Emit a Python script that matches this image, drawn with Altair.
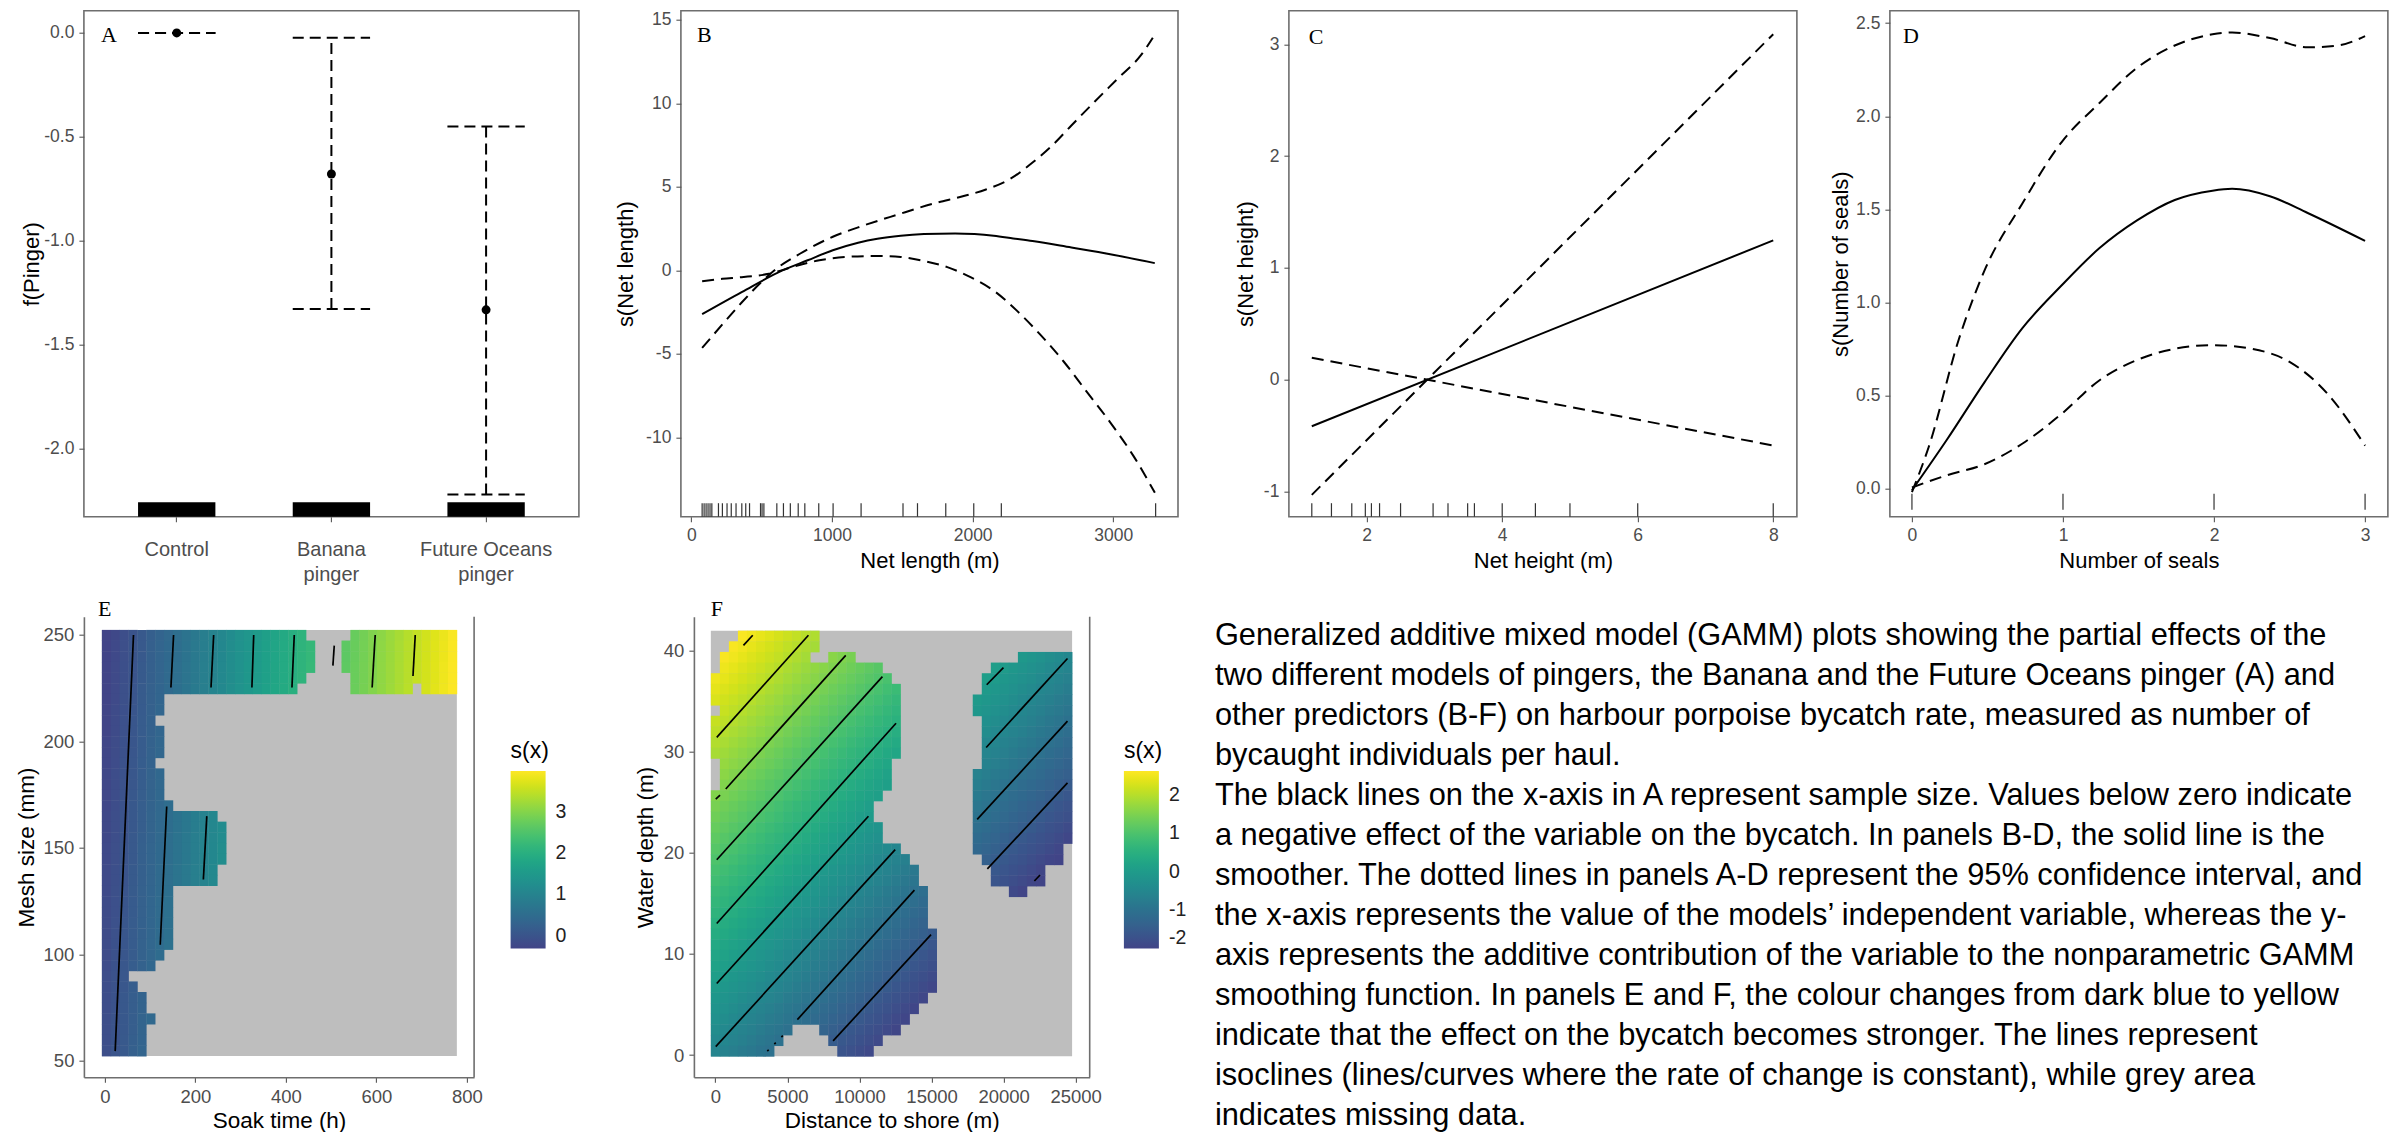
import altair as alt
import pandas as pd

FONT = "Liberation Sans"
SERIF = "Liberation Serif"
FRAME = "#6e6e6e"
LBL = "#4d4d4d"
MINUS = "replace(datum.label, '\u2212', '-')"

# ---------------- Panel A : pinger effect ----------------
pinger_cats = ["Control", "Banana pinger", "Future Oceans pinger"]
pinger_fit = [0.0, -0.679, -1.333]
pinger_upper = [0.0, -0.023, -0.450]
pinger_lower = [0.0, -1.329, -2.222]
sample_bar_top = -2.26
A_ydomain = [-2.329, 0.107]

# ---------------- Panel B : net length ----------------
netlen_x = [77, 358, 648, 827, 1006, 1186, 1323, 1489, 1654, 1875, 2013, 2150, 2288, 2426, 2702, 2978, 3295]
netlen_fit = [-2.62, -1.30, 0.00, 0.61, 1.21, 1.66, 1.90, 2.08, 2.18, 2.22, 2.18, 2.08, 1.92, 1.76, 1.37, 0.97, 0.44]
netlen_up_x = [77, 221, 358, 496, 620, 772, 1006, 1186, 1461, 1737, 1930, 2095, 2261, 2426, 2564, 2702, 2867, 3033, 3198, 3281]
netlen_up = [-4.64, -3.23, -1.92, -0.71, 0.20, 1.00, 2.02, 2.58, 3.33, 4.04, 4.44, 4.85, 5.45, 6.46, 7.47, 8.68, 10.1, 11.5, 12.9, 13.93]
netlen_lo_x = [77, 221, 358, 551, 717, 910, 1103, 1323, 1489, 1654, 1820, 1985, 2150, 2316, 2481, 2647, 2812, 2978, 3143, 3295]
netlen_lo = [-0.65, -0.50, -0.40, -0.20, 0.20, 0.61, 0.81, 0.87, 0.81, 0.57, 0.20, -0.40, -1.21, -2.42, -3.84, -5.45, -7.27, -9.09, -11.1, -13.3]
netlen_rug = [77, 91, 105, 119, 133, 146, 193, 221, 254, 284, 318, 359, 387, 414, 492, 503, 516, 608, 655,
              704, 760, 807, 906, 1008, 1207, 1505, 1608, 1809, 2008, 2204, 3301]

# ---------------- Panel C : net height ----------------
netht_x = [1.19, 8.0]
netht_fit = [-0.416, 1.246]
netht_up = [-1.03, 3.09]
netht_lo = [0.196, -0.588]
netht_rug = [1.19, 1.48, 1.78, 1.98, 2.07, 2.19, 2.50, 2.98, 3.20, 3.49, 3.59, 4.0, 4.49, 5.0, 6.0, 8.0]

# ---------------- Panel D : number of seals ----------------
seals_x = [0, 0.23, 0.48, 0.73, 0.99, 1.24, 1.49, 1.74, 1.99, 2.12, 2.37, 2.62, 3.0]
seals_fit = [-0.01, 0.26, 0.57, 0.86, 1.09, 1.29, 1.44, 1.55, 1.60, 1.61, 1.57, 1.48, 1.33]
seals_up_x = [0, 0.11, 0.31, 0.48, 0.73, 0.99, 1.24, 1.49, 1.74, 1.99, 2.12, 2.37, 2.62, 2.82, 3.0]
seals_up = [-0.02, 0.22, 0.80, 1.17, 1.53, 1.86, 2.07, 2.26, 2.38, 2.44, 2.45, 2.42, 2.37, 2.38, 2.43]
seals_lo_x = [0, 0.23, 0.48, 0.73, 0.99, 1.24, 1.49, 1.74, 1.99, 2.25, 2.5, 2.75, 3.0]
seals_lo = [0.005, 0.07, 0.13, 0.24, 0.40, 0.58, 0.69, 0.75, 0.77, 0.75, 0.68, 0.51, 0.23]
seals_rug = [0, 1, 2, 3]

# ---------------- Panel E : soak time x mesh size surface ----------------
soak_extent = [-6.6, 778.0]
mesh_extent = [52.2, 252.4]
soak_col_vals = [-0.34, -0.23, -0.12, -0.01, 0.10, 0.21, 0.32, 0.43, 0.54, 0.65, 0.77, 0.88, 0.99, 1.10,
                 1.21, 1.32, 1.43, 1.54, 1.65, 1.76, 1.87, 1.98, 2.09, 2.20, 2.31, 2.42, 2.53, 2.64, 2.75,
                 2.86, 2.97, 3.08, 3.19, 3.30, 3.41, 3.52, 3.63, 3.74, 3.85, 3.96]
mesh_row_shift = [0.00, 0.01, 0.01, 0.02, 0.02, 0.03, 0.03, 0.04, 0.05, 0.05, 0.06, 0.06, 0.07, 0.08,
                  0.08, 0.09, 0.09, 0.10, 0.10, 0.11, 0.12, 0.12, 0.13, 0.13, 0.14, 0.15, 0.15, 0.16,
                  0.16, 0.17, 0.17, 0.18, 0.19, 0.19, 0.20, 0.20, 0.21, 0.21, 0.22, 0.23]
E_runs = [
    [(0, 22), (28, 39)], [(0, 23), (27, 39)], [(0, 23), (27, 39)], [(0, 23), (27, 39)],
    [(0, 22), (28, 39)], [(0, 21), (28, 34), (36, 39)],
    [(0, 6)], [(0, 6)], [(0, 5)], [(0, 6)], [(0, 6)], [(0, 6)], [(0, 5)], [(0, 6)], [(0, 6)], [(0, 6)],
    [(0, 7)], [(0, 12)], [(0, 13)], [(0, 13)], [(0, 13)], [(0, 13)], [(0, 12)], [(0, 12)],
    [(0, 7)], [(0, 7)], [(0, 7)], [(0, 7)], [(0, 7)], [(0, 7)],
    [(0, 6)], [(0, 5)], [(0, 2)], [(0, 3)], [(0, 4)], [(0, 4)], [(0, 5)], [(0, 4)], [(0, 4)], [(0, 4)],
]
E_iso_x1 = [63.3, 151.9, 240.5, 329.0, 418.6, 507.0, 597.5, 686.0, 136.7, 225.3]
E_iso_y1 = [250.0, 250.0, 250.0, 250.0, 250.0, 245.0, 250.0, 250.0, 169.4, 164.9]
E_iso_x2 = [22.8, 146.0, 234.6, 325.0, 413.5, 504.0, 590.7, 681.0, 122.4, 217.7]
E_iso_y2 = [54.5, 225.3, 225.3, 225.3, 225.3, 235.6, 225.3, 230.7, 104.5, 135.1]

# ---------------- Panel F : distance to shore x water depth surface ----------------
dist_extent = [-313.0, 24750.0]
depth_extent = [-0.12, 41.95]
dist_col_vals = [0.00, -0.08, -0.16, -0.24, -0.32, -0.40, -0.48, -0.56, -0.65, -0.73, -0.81, -0.89, -0.97,
                 -1.05, -1.13, -1.21, -1.29, -1.37, -1.45, -1.53, -1.61, -1.69, -1.77, -1.85, -1.94, -2.02,
                 -2.10, -2.18, -2.26, -2.34, -2.42, -2.50, -2.58, -2.66, -2.74, -2.82, -2.90, -2.98, -3.06, -3.14]
depth_row_vals = [2.83, 2.74, 2.66, 2.57, 2.49, 2.40, 2.31, 2.23, 2.14, 2.06, 1.97, 1.88, 1.80, 1.71, 1.62,
                  1.54, 1.45, 1.37, 1.28, 1.19, 1.11, 1.02, 0.93, 0.85, 0.76, 0.68, 0.59, 0.50, 0.42, 0.33,
                  0.24, 0.16, 0.07, -0.01, -0.10, -0.19, -0.27, -0.36, -0.44, -0.53]
F_runs = [
    [(3, 11)], [(2, 11)], [(1, 10), (13, 15), (34, 39)], [(1, 18), (31, 39)], [(0, 19), (30, 39)],
    [(0, 20), (30, 39)], [(0, 20), (29, 39)], [(1, 20), (29, 39)], [(0, 20), (30, 39)], [(0, 20), (30, 39)],
    [(0, 20), (30, 39)], [(0, 20), (30, 39)], [(1, 19), (30, 39)], [(1, 19), (29, 39)], [(1, 19), (29, 39)],
    [(0, 18), (29, 39)], [(0, 17), (29, 39)], [(0, 17), (29, 39)], [(0, 18), (29, 39)], [(0, 18), (29, 39)],
    [(0, 20), (29, 38)], [(0, 21), (30, 38)], [(0, 22), (31, 36)], [(0, 22), (31, 36)], [(0, 23), (33, 34)],
    [(0, 23)], [(0, 23)], [(0, 23)], [(0, 24)], [(0, 24)], [(0, 24)], [(0, 24)], [(0, 24)], [(0, 24)],
    [(0, 23)], [(0, 22)], [(0, 21)], [(0, 8), (12, 20)], [(0, 7), (13, 18)], [(0, 6), (14, 17)],
]
F_iso_x1 = [1949, 97, 28, 721, 97, 97, 97, 26, 5690, 8169, 18827, 18792, 18166, 18870, 22133]
F_iso_y1 = [40.5, 31.4, 25.3, 26.3, 19.3, 13.0, 7.07, 0.83, 3.5, 1.4, 36.6, 30.4, 23.3, 18.4, 17.2]
F_iso_x2 = [2594, 6458, 326, 9046, 11591, 12535, 10620, 12476, 13811, 14963, 19986, 24430, 24430, 24430, 22524]
F_iso_y2 = [41.5, 41.5, 25.7, 39.5, 37.4, 32.8, 23.6, 20.3, 16.3, 11.9, 38.3, 39.2, 33.0, 26.9, 17.8]
F_dot_x = [3602, 5037]
F_dot_y = [0.38, 2.43]

caption_lines = [
    "Generalized additive mixed model (GAMM) plots showing the partial effects of the",
    "two different models of pingers, the Banana and the Future Oceans pinger (A) and",
    "other predictors (B-F) on harbour porpoise bycatch rate, measured as number of",
    "bycaught individuals per haul.",
    "The black lines on the x-axis in A represent sample size. Values below zero indicate",
    "a negative effect of the variable on the bycatch. In panels B-D, the solid line is the",
    "smoother. The dotted lines in panels A-D represent the 95% confidence interval, and",
    "the x-axis represents the value of the models\u2019 independent variable, whereas the y-",
    "axis represents the additive contribution of the variable to the nonparametric GAMM",
    "smoothing function. In panels E and F, the colour changes from dark blue to yellow",
    "indicate that the effect on the bycatch becomes stronger. The lines represent",
    "isoclines (lines/curves where the rate of change is constant), while grey area",
    "indicates missing data.",
]

# ---------------- layout (styles) ----------------
TOP_H = 506
BOT_H = 460.6
W_A, W_B, W_C, W_D = 495, 497.1, 508, 498
W_E, W_F = 390.2, 395.8
GAP_AB, GAP_BC, GAP_CD = 101.2, 109.7, 92.4
GAP_EF, GAP_FT = 218.4, 125
TOP_BOUND = TOP_H + 75    # invisible anchors that fix the vertical layout bounds
BOT_BOUND = -23
ROW_GAP = 604 - TOP_BOUND + BOT_BOUND
FRAME_VIEW = alt.ViewBackground(stroke=FRAME, strokeWidth=1.6)
one = pd.DataFrame({"t": [0]})

TOP_TICK, TOP_TITLE = 17.5, 22
BOT_TICK, BOT_TITLE = 18.5, 22.5


def yax(title, values, title_x, H, size=TOP_TICK, tsize=TOP_TITLE, fmt=None, domain=False):
    kw = dict(title=title, values=values, titleX=title_x, titleY=H / 2, titleAngle=270,
              titleAlign="center", titleBaseline="middle", labelFontSize=size, titleFontSize=tsize,
              labelPadding=5, tickSize=5, labelExpr=MINUS, domain=domain, labelOverlap=False,
              labelFlush=False, grid=False)
    if domain:
        kw.update(domainColor=FRAME, domainWidth=1.6)
    if fmt:
        kw["format"] = fmt
    return alt.Axis(**kw)


def xax(title, values, W, size=TOP_TICK, tsize=TOP_TITLE, lpad=14.3, ty=44, fmt="d", domain=False):
    kw = dict(title=title, values=values, titleX=W / 2, titleY=ty, titleAlign="center",
              titleBaseline="middle", labelFontSize=size, titleFontSize=tsize, labelPadding=lpad,
              labelBaseline="middle", tickSize=5, labelExpr=MINUS, domain=domain, labelOverlap=False,
              labelFlush=False, labelAngle=0, format=fmt, grid=False)
    if domain:
        kw.update(domainColor=FRAME, domainWidth=1.6)
    return alt.Axis(**kw)


def panel_label(t, x, y, size=22):
    return alt.Chart(pd.DataFrame({"t": [t]})).mark_text(
        font=SERIF, fontSize=size, align="left", baseline="middle", color="black"
    ).encode(x=alt.value(x), y=alt.value(y), text="t:N")


def spacer(w, h, anchor=None):
    base = alt.Chart(one).mark_point(opacity=0, size=1).encode(x=alt.value(0), y=alt.value(0))
    if anchor is None:
        return base.properties(width=w, height=h)
    extra = alt.Chart(one).mark_point(opacity=0, size=1).encode(x=alt.value(0), y=alt.value(anchor))
    return alt.layer(base, extra).properties(width=w, height=h)


def lscale(dom):
    return alt.Scale(domain=dom, nice=False, zero=False)


# ---------------- Panel A ----------------
dfA = pd.DataFrame({"cat": pinger_cats, "fit": pinger_fit, "hi": pinger_upper,
                    "lo": pinger_lower, "bt": [sample_bar_top] * 3, "bb": [A_ydomain[0]] * 3})
band = alt.Scale(paddingInner=0.5, paddingOuter=0.35)
xA_axis = alt.Axis(title=None, labelFontSize=20, labelLineHeight=25, labelBaseline="middle",
                   labelPadding=27.5, tickSize=5, domain=False, labelAngle=0, labelOverlap=False,
                   labelColor=LBL, grid=False,
                   labelExpr="datum.value == 'Banana pinger' ? ['Banana', 'pinger'] : "
                             "datum.value == 'Future Oceans pinger' ? ['Future Oceans', 'pinger'] : datum.label")
ysA = lscale(A_ydomain)
yA_axis = yax("f(Pinger)", [0, -0.5, -1, -1.5, -2], -52.1, TOP_H, fmt=".1f")
baseA = alt.Chart(dfA)
barsA = baseA.mark_bar(color="black").encode(
    x=alt.X("cat:N", sort=pinger_cats, scale=band, axis=xA_axis),
    y=alt.Y("bt:Q", scale=ysA, axis=yA_axis), y2="bb")
dash_A = dict(color="black", strokeWidth=2, strokeDash=[11, 6])
capHi = baseA.mark_rule(**dash_A).encode(
    x=alt.X("cat:N", sort=pinger_cats, bandPosition=0), x2=alt.X2("cat", bandPosition=1), y="hi:Q")
capLo = baseA.mark_rule(**dash_A).encode(
    x=alt.X("cat:N", sort=pinger_cats, bandPosition=0), x2=alt.X2("cat", bandPosition=1), y="lo:Q")
vertA = baseA.mark_rule(**dash_A).encode(x=alt.X("cat:N", sort=pinger_cats), y="lo:Q", y2="hi")
ptsA = baseA.mark_circle(size=80, color="black", opacity=1).encode(
    x=alt.X("cat:N", sort=pinger_cats), y="fit:Q")
chartA = alt.layer(barsA, capHi, capLo, vertA, ptsA, panel_label("A", 17, 24.5)).properties(
    width=W_A, height=TOP_H, view=FRAME_VIEW)


# ---------------- smooth panels B, C, D ----------------
def smooth_panel(fx, fy, ux, uy, lx, ly, rug, xdom, ydom, xvals, yvals, xtitle, ytitle,
                 title_x, W, letter, lx_pos, ly_pos, yfmt="d", rug_top=13.5, rug_bot=0):
    dfit = pd.DataFrame({"x": fx, "y": fy})
    dci = pd.concat([pd.DataFrame({"x": ux, "y": uy, "b": "upper"}),
                     pd.DataFrame({"x": lx, "y": ly, "b": "lower"})])
    drug = pd.DataFrame({"x": rug})
    xs, ys = lscale(xdom), lscale(ydom)
    fit = alt.Chart(dfit).mark_line(color="black", strokeWidth=2, interpolate="monotone").encode(
        x=alt.X("x:Q", scale=xs, axis=xax(xtitle, xvals, W)),
        y=alt.Y("y:Q", scale=ys, axis=yax(ytitle, yvals, title_x, TOP_H, fmt=yfmt)))
    ci = alt.Chart(dci).mark_line(color="black", strokeWidth=2, strokeDash=[12, 7],
                                  interpolate="monotone").encode(x="x:Q", y="y:Q", detail="b:N")
    rg = alt.Chart(drug).mark_rule(color="#333333", strokeWidth=1.2).encode(
        x="x:Q", y=alt.value(TOP_H - rug_top), y2=alt.value(TOP_H - rug_bot))
    return alt.layer(fit, ci, rg, panel_label(letter, lx_pos, ly_pos)).properties(
        width=W, height=TOP_H, view=FRAME_VIEW)


chartB = smooth_panel(netlen_x, netlen_fit, netlen_up_x, netlen_up, netlen_lo_x, netlen_lo, netlen_rug,
                      [-74, 3460], [-14.74, 15.55], [0, 1000, 2000, 3000], [-10, -5, 0, 5, 10, 15],
                      "Net length (m)", "s(Net length)", -55.4, W_B, "B", 16.2, 24.4)
chartC = smooth_panel(netht_x, netht_fit, netht_x, netht_up, netht_x, netht_lo, netht_rug,
                      [0.852, 8.349], [-1.225, 3.30], [2, 4, 6, 8], [-1, 0, 1, 2, 3],
                      "Net height (m)", "s(Net height)", -43.1, W_C, "C", 19.8, 26.8)
chartD = smooth_panel(seals_x, seals_fit, seals_up_x, seals_up, seals_lo_x, seals_lo, seals_rug,
                      [-0.146, 3.151], [-0.152, 2.567], [0, 1, 2, 3], [0, 0.5, 1, 1.5, 2, 2.5],
                      "Number of seals", "s(Number of seals)", -49.4, W_D, "D", 13, 25,
                      yfmt=".1f", rug_top=23, rug_bot=7)


# ---------------- surface panels E, F ----------------
def cell_table(runs, xext, yext, colvals, rowvals):
    nc, nr = len(colvals), len(rowvals)
    dx = (xext[1] - xext[0]) / nc
    dy = (yext[1] - yext[0]) / nr
    recs = []
    for r, spans in enumerate(runs):
        for a, b in spans:
            for c in range(a, b + 1):
                # cells overlap their neighbours by a hair so no seams show
                recs.append({"xa": xext[0] + c * dx, "xb": xext[0] + (c + 1.04) * dx,
                             "ya": yext[1] - r * dy, "yb": yext[1] - (r + 1.04) * dy,
                             "v": colvals[c] + rowvals[r]})
    return pd.DataFrame(recs)


def surface_panel(runs, xext, yext, colvals, rowvals, isx1, isy1, isx2, isy2, xdom, ydom, xvals, yvals,
                  xtitle, ytitle, title_x, W, cdom, lvals, legx, letter, lx_pos, dots=None):
    xs, ys = lscale(xdom), lscale(ydom)
    cs = alt.Scale(domain=cdom, scheme=alt.SchemeParams(name="viridis", extent=[0.2, 1.0]), clamp=True)
    bg = pd.DataFrame({"xa": [xext[0]], "xb": [xext[1]], "ya": [yext[1]], "yb": [yext[0]]})
    grey = alt.Chart(bg).mark_rect(color="#bebebe").encode(
        x=alt.X("xa:Q", scale=xs, axis=xax(xtitle, xvals, W, size=BOT_TICK, tsize=BOT_TITLE, lpad=14.2,
                                            ty=43, domain=True)),
        x2="xb",
        y=alt.Y("ya:Q", scale=ys, axis=yax(ytitle, yvals, title_x, BOT_H, size=BOT_TICK, tsize=BOT_TITLE,
                                            domain=True)),
        y2="yb")
    leg = alt.Legend(title="s(x)", type="gradient", orient="none", legendX=legx, legendY=123.3,
                     direction="vertical", gradientLength=177.4, gradientThickness=35, values=lvals,
                     labelFontSize=19.5, titleFontSize=23, titlePadding=8, labelOffset=10,
                     labelColor="#222222", titleColor="black", gradientStrokeWidth=0,
                     titleFontWeight="normal", labelOverlap=False, labelExpr=MINUS)
    cells = alt.Chart(cell_table(runs, xext, yext, colvals, rowvals)).mark_rect().encode(
        x="xa:Q", x2="xb", y="ya:Q", y2="yb",
        color=alt.Color("v:Q", scale=cs, legend=leg))
    iso = alt.Chart(pd.DataFrame({"x1": isx1, "y1": isy1, "x2": isx2, "y2": isy2})).mark_rule(
        color="black", strokeWidth=1.7).encode(x="x1:Q", y="y1:Q", x2="x2", y2="y2")
    edge = alt.Chart(one).mark_rule(color=FRAME, strokeWidth=1.6).encode(
        x=alt.value(W), y=alt.value(0), y2=alt.value(BOT_H))
    layers = [grey, cells, iso]
    if dots is not None:
        layers.append(alt.Chart(pd.DataFrame({"x": dots[0], "y": dots[1]})).mark_line(
            color="black", strokeWidth=1.7, strokeDash=[2, 8]).encode(x="x:Q", y="y:Q"))
    layers += [edge, panel_label(letter, lx_pos, -7.7)]
    return alt.layer(*layers).properties(width=W, height=BOT_H)


chartE = surface_panel(E_runs, soak_extent, mesh_extent, soak_col_vals, mesh_row_shift,
                       E_iso_x1, E_iso_y1, E_iso_x2, E_iso_y2, [-46.3, 816.1], [42.2, 258.6],
                       [0, 200, 400, 600, 800], [50, 100, 150, 200, 250], "Soak time (h)",
                       "Mesh size (mm)", -57.4, W_E, [-0.31, 4.0], [0, 1, 2, 3], 426.7, "E", 14.1)
chartF = surface_panel(F_runs, dist_extent, depth_extent, dist_col_vals, depth_row_vals,
                       F_iso_x1, F_iso_y1, F_iso_x2, F_iso_y2, [-1488, 25971], [-2.2, 43.33],
                       [0, 5000, 10000, 15000, 20000, 25000], [0, 10, 20, 30, 40],
                       "Distance to shore (m)", "Water depth (m)", -48.9, W_F, [-2.0, 2.63],
                       [-2, -1, 0, 1, 2], 430.0, "F", 16.8, dots=(F_dot_x, F_dot_y))

caption = alt.Chart(one).mark_text(align="left", baseline="top", font=FONT, fontSize=30.8,
                                   lineHeight=40, color="black").encode(
    x=alt.value(0), y=alt.value(4.5), text=alt.value(caption_lines)).properties(width=1100, height=BOT_H)

top_row = alt.hconcat(
    chartA, spacer(GAP_AB, TOP_H, anchor=TOP_BOUND), chartB, spacer(GAP_BC, TOP_H), chartC,
    spacer(GAP_CD, TOP_H), chartD,
    spacing=0, bounds="flush")
bottom_row = alt.hconcat(
    chartE, spacer(GAP_EF, BOT_H, anchor=BOT_BOUND), chartF, spacer(GAP_FT, BOT_H), caption,
    spacing=0, bounds="flush").resolve_scale(color="independent")

chart = alt.vconcat(top_row, bottom_row, spacing=ROW_GAP).resolve_scale(
    color="independent").properties(
    padding={"left": 6.9, "top": 1.7, "right": 0, "bottom": 0}
).configure_view(stroke=None).configure_axis(
    labelFont=FONT, titleFont=FONT, labelColor=LBL, titleColor="black", tickColor="#555555",
    tickWidth=1.1, titleFontWeight="normal", grid=False
).configure_legend(labelFont=FONT, titleFont=FONT, titleFontWeight="normal")

chart.save("out.html", embed_options={"renderer": "svg", "actions": False})
